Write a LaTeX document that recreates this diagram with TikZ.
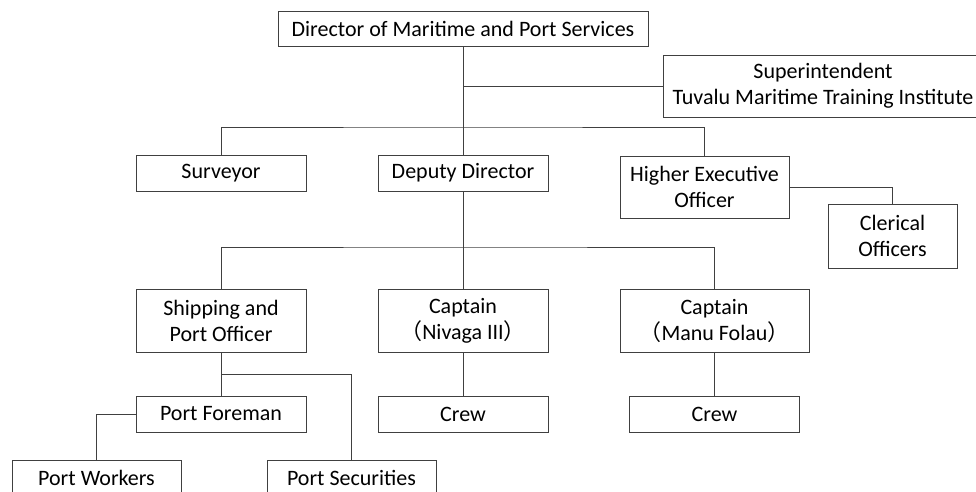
\documentclass[tikz,border=0pt]{standalone}
\usepackage{fontspec}
\setmainfont{Carlito}
\newfontfamily\cjk{Noto Sans CJK JP}
\definecolor{ln}{HTML}{404040}
\begin{document}
\begin{tikzpicture}[x=1pt,y=-1pt,
  box/.style={draw=ln, line width=0.9pt, fill=white, inner sep=0pt, align=center,
    font=\fontsize{22}{26}\selectfont},
  conn/.style={draw=ln, line width=0.9pt}]
\useasboundingbox (0,0) rectangle (976,491);
\begin{scope}
\clip (0,0) rectangle (976,491);
\node[box, minimum width=370, minimum height=35] (dir) at (463,28.5) {Director of Maritime and Port Services};
\node[box, minimum width=320, minimum height=62] (sup) at (823,86) {Superintendent\\Tuvalu Maritime Training Institute};
\node[box, minimum width=170, minimum height=36] (surv) at (221,173) {Surveyor};
\node[box, minimum width=170, minimum height=36] (dep) at (463,173) {Deputy Director};
\node[box, minimum width=169, minimum height=62] (heo) at (704.5,187) {Higher Executive\\Officer};
\node[box, minimum width=129, minimum height=64] (cler) at (892.5,236) {Clerical\\Officers};
\node[box, minimum width=170, minimum height=63] (ship) at (221,320.5) {Shipping and\\Port Officer};
\node[box, minimum width=170, minimum height=63] (capa) at (463,320.5) {Captain\\{\cjk （}Nivaga III{\cjk ）}};
\node[box, minimum width=189, minimum height=63] (capb) at (714.5,320.5) {Captain\\{\cjk （}Manu Folau{\cjk ）}};
\node[box, minimum width=170, minimum height=36] (fore) at (221,414) {Port Foreman};
\node[box, minimum width=170, minimum height=36] (crewa) at (463,414) {Crew};
\node[box, minimum width=170, minimum height=36] (crewb) at (714.5,414) {Crew};
\node[box, minimum width=169, minimum height=36] (work) at (96.5,478) {Port Workers};
\node[box, minimum width=169, minimum height=36] (sec) at (351.5,478) {Port Securities};
\coordinate (b1) at (463,127);
\coordinate (b2) at (463,247);
\coordinate (b3) at (221,374);
\path[conn] (dir.south) -- (dep.north);
\path[conn] (dir.south |- sup.west) -- (sup.west);
\path[conn] (surv.north) |- (b1) -| (heo.north);
\path[conn] (heo.east) -| (cler.north);
\path[conn] (dep.south) -- (capa.north);
\path[conn] (ship.north) |- (b2) -| (capb.north);
\path[conn] (capa.south) -- (crewa.north);
\path[conn] (capb.south) -- (crewb.north);
\path[conn] (ship.south) -- (fore.north);
\path[conn] (b3) -| (sec.north);
\path[conn] (fore.west) -| (work.north);
\end{scope}
\end{tikzpicture}
\end{document}
